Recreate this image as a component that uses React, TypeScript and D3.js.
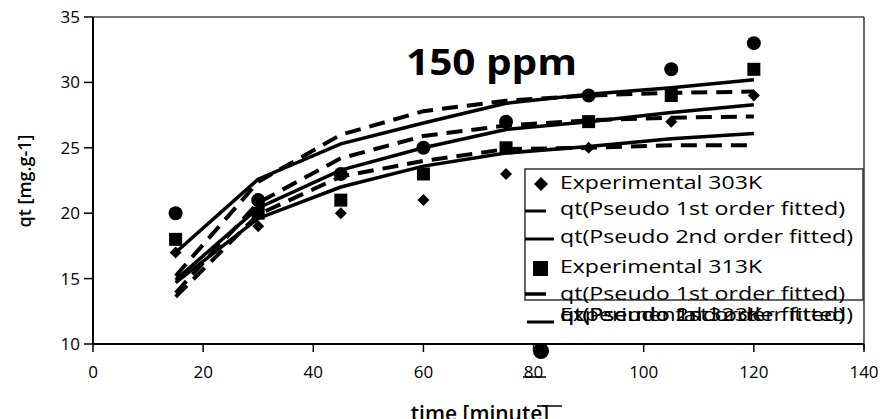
import React from 'react';
import * as d3 from 'd3';

const times = [15, 30, 45, 60, 75, 90, 105, 120];
const exp303 = [17, 19, 20, 21, 23, 25, 27, 29];
const exp313 = [18, 20, 21, 23, 25, 27, 29, 31];
const exp323 = [20, 21, 23, 25, 27, 29, 31, 33];
const pfo303 = [13.6, 19.9, 22.8, 24.0, 24.9, 25.0, 25.2, 25.2];
const pso303 = [14.7, 19.6, 22.0, 23.6, 24.6, 25.1, 25.7, 26.1];
const pfo313 = [13.9, 20.8, 24.2, 25.9, 26.7, 27.1, 27.3, 27.4];
const pso313 = [14.9, 20.4, 23.3, 25.0, 26.4, 27.0, 27.7, 28.3];
const pfo323 = [15.2, 22.4, 26.0, 27.8, 28.6, 29.0, 29.2, 29.3];
const pso323 = [17.0, 22.6, 25.3, 26.9, 28.4, 29.1, 29.6, 30.2];

const xTicks = [0, 20, 40, 60, 80, 100, 120, 140];
const yTicks = [10, 15, 20, 25, 30, 35];

const legendLabels = [
  'Experimental 303K',
  'qt(Pseudo 1st order fitted)',
  'qt(Pseudo 2nd order fitted)',
  'Experimental 313K',
  'qt(Pseudo 1st order fitted)',
];
const overflowLabels = [
  'Experimental 323K',
  'qt(Pseudo 1st order fitted)',
  'qt(Pseudo 2nd order fitted)',
];

const W = 887;
const H = 419;
const left = 93, right = 864, top = 17, bottom = 344;

const x = d3.scaleLinear().domain([0, 140]).range([left, right]);
const y = d3.scaleLinear().domain([10, 35]).range([bottom, top]);

const line = d3.line<number>().x((_, i) => x(times[i])).y((d) => y(d));

const FONT = '"Open Sans", "Noto Sans", sans-serif';

function Diamond({ cx, cy, r }: { cx: number; cy: number; r: number }) {
  return <path d={`M${cx},${cy - r}L${cx + r},${cy}L${cx},${cy + r}L${cx - r},${cy}Z`} fill="#000" />;
}

export default function App() {
  const fitted = [
    { d: pfo303, dash: true },
    { d: pso303, dash: false },
    { d: pfo313, dash: true },
    { d: pso313, dash: false },
    { d: pfo323, dash: true },
    { d: pso323, dash: false },
  ];
  const legX = 525, legY = 169, legR = 863, legB = 300;
  const rowBase = [189, 215, 243, 273, 300];
  const textX = 560;
  const widths = [202, 285, 293, 202, 285];
  return (
    <svg width={W} height={H} style={{ position: 'absolute', left: 0, top: 0, background: '#fff' }}>
      <rect x={0} y={0} width={W} height={H} fill="#fff" />
      {/* frame */}
      <line x1={left} x2={right} y1={top} y2={top} stroke="#777" strokeWidth={2} />
      <line x1={right} x2={right} y1={top} y2={bottom + 6} stroke="#333" strokeWidth={1.5} />
      {/* y axis */}
      <line x1={left} x2={left} y1={top} y2={bottom} stroke="#000" strokeWidth={2} />
      {yTicks.map((t) => (
        <g key={'y' + t}>
          <line x1={left - 9} x2={left} y1={y(t)} y2={y(t)} stroke="#000" strokeWidth={1.5} />
          <text x={left - 13} y={y(t)} dy="0.35em" textAnchor="end" fontFamily={FONT} fontSize={17} fontWeight={500} fill="#000">
            {t}
          </text>
        </g>
      ))}
      {/* x axis */}
      <line x1={left} x2={right} y1={bottom} y2={bottom} stroke="#000" strokeWidth={2} />
      {xTicks.map((t) => (
        <g key={'x' + t}>
          <line x1={x(t)} x2={x(t)} y1={bottom} y2={bottom + 8} stroke="#000" strokeWidth={1.5} />
          <text x={x(t)} y={378} textAnchor="middle" fontFamily={FONT} fontSize={17} fontWeight={500} fill="#000">
            {t}
          </text>
        </g>
      ))}
      {/* axis titles */}
      <text transform="translate(31,181) rotate(-90)" textAnchor="middle" fontFamily={FONT} fontSize={18} fontWeight={600} fill="#000">
        qt [mg.g-1]
      </text>
      <text x={480} y={421} textAnchor="middle" fontFamily={FONT} fontSize={21} fontWeight={600} fill="#000">
        time [minute]
      </text>
      {/* title */}
      <text x={406} y={75} fontFamily={FONT} fontSize={35} fontWeight={700} fill="#000" textLength={171} lengthAdjust="spacingAndGlyphs">
        150 ppm
      </text>
      {/* fitted lines */}
      {fitted.map((f, i) => (
        <path
          key={'f' + i}
          d={line(f.d) || ''}
          fill="none"
          stroke="#000"
          strokeWidth={f.dash ? 4 : 3.5}
          strokeDasharray={f.dash ? '16 9' : undefined}
        />
      ))}
      {/* experimental points */}
      {exp303.map((v, i) => (
        <Diamond key={'d' + i} cx={x(times[i])} cy={y(v)} r={6} />
      ))}
      {exp313.map((v, i) => (
        <rect key={'s' + i} x={x(times[i]) - 6.5} y={y(v) - 6.5} width={13} height={13} fill="#000" />
      ))}
      {exp323.map((v, i) => (
        <circle key={'c' + i} cx={x(times[i])} cy={y(v)} r={7} fill="#000" />
      ))}
      {/* legend */}
      <rect x={legX} y={legY} width={legR - legX} height={legB - legY} fill="none" stroke="#333" strokeWidth={1.5} />
      <Diamond cx={541} cy={184} r={7} />
      <line x1={legX} x2={546} y1={211} y2={211} stroke="#000" strokeWidth={3} />
      <line x1={legX} x2={554} y1={239} y2={239} stroke="#000" strokeWidth={3} />
      <rect x={533} y={261} width={15} height={15} fill="#000" />
      <line x1={legX} x2={546} y1={294} y2={294} stroke="#000" strokeWidth={3.5} />
      <line x1={527} x2={554} y1={322} y2={322} stroke="#000" strokeWidth={3} />
      {legendLabels.map((l, i) => (
        <text
          key={'l' + i}
          x={textX}
          y={rowBase[i]}
          fontFamily={FONT}
          fontSize={18}
          fontWeight={500}
          fill="#000"
          textLength={widths[i]}
          lengthAdjust="spacingAndGlyphs"
        >
          {l}
        </text>
      ))}
      {overflowLabels.map((l, i) => (
        <text
          key={'o' + i}
          x={textX}
          y={321}
          fontFamily={FONT}
          fontSize={18}
          fontWeight={500}
          fill="#000"
          textLength={i === 0 ? 202 : i === 1 ? 285 : 293}
          lengthAdjust="spacingAndGlyphs"
        >
          {l}
        </text>
      ))}
      {/* overflow legend marker and fragments */}
      <circle cx={541} cy={351} r={8} fill="#000" />
      <line x1={523} x2={546} y1={377} y2={377} stroke="#000" strokeWidth={1.5} />
      <line x1={537} x2={562} y1={406} y2={406} stroke="#000" strokeWidth={1.5} />
    </svg>
  );
}
